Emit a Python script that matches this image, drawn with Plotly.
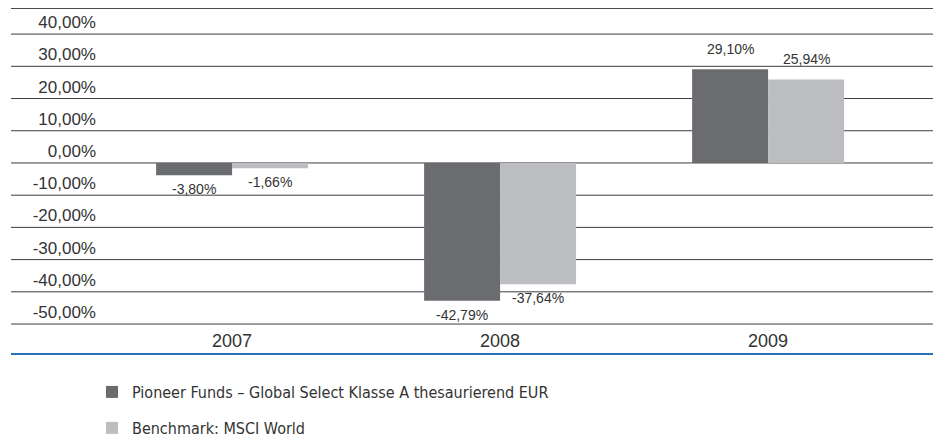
import plotly.graph_objects as go

years = ["2007", "2008", "2009"]
fund_values = [-3.80, -42.79, 29.10]
bench_values = [-1.66, -37.64, 25.94]
fund_name = "Pioneer Funds – Global Select Klasse A thesaurierend EUR"
bench_name = "Benchmark: MSCI World"
tick_values = [40, 30, 20, 10, 0, -10, -20, -30, -40, -50]


def fmt(v):
    return f"{v:.2f}".replace(".", ",") + "%"


tick_text = [fmt(v) for v in tick_values]

# page body has an 8px margin: figure pixels = screen pixels - 8
W, H = 933, 429
ML, MR, MT, MB = 89, 7, 0, 83
plot_w = W - ML - MR
plot_h = H - MT - MB
grid_x0 = (3 - ML) / plot_w
x_range = [-0.504, 2.619]
bargap = 0.433
px_per_cat = plot_w / (x_range[1] - x_range[0])
bar_offset_px = px_per_cat * (1 - bargap) / 4

fig = go.Figure()
fig.add_trace(go.Bar(
    x=years, y=fund_values, name=fund_name,
    marker=dict(color="#6b6c70", line=dict(width=0)),
    legend="legend",
))
fig.add_trace(go.Bar(
    x=years, y=bench_values, name=bench_name,
    marker=dict(color="#bcbdc1", line=dict(width=0)),
    legend="legend2",
))

annotations = []
for values, sign in ((fund_values, -1), (bench_values, 1)):
    for i, v in enumerate(values):
        annotations.append(dict(
            x=i, y=v, xref="x", yref="y", text=fmt(v), showarrow=False,
            xshift=sign * bar_offset_px, yshift=(20 if v >= 0 else -14),
            yanchor="middle", xanchor="center",
            font=dict(size=14, color="#333333", family="Liberation Sans"),
        ))

shapes = []
for v in tick_values:
    shapes.append(dict(type="line", xref="paper", yref="y", x0=grid_x0, x1=1,
                       y0=v, y1=v, line=dict(color="#3c3c3c", width=1), layer="below"))
shapes.append(dict(type="line", xref="paper", yref="paper", x0=grid_x0, x1=1,
                   y0=1, y1=1, line=dict(color="#4a4a4a", width=2)))
shapes.append(dict(type="line", xref="paper", yref="paper", x0=grid_x0, x1=1,
                   y0=0, y1=0, line=dict(color="#2a73ba", width=2)))

legend_font = dict(family="Liberation Sans Narrow, DejaVu Sans Condensed", size=16, color="#333333")
fig.update_layout(
    width=W, height=H,
    margin=dict(l=ML, r=MR, t=MT, b=MB, autoexpand=False),
    paper_bgcolor="white", plot_bgcolor="white",
    barmode="group", bargap=bargap, bargroupgap=0,
    shapes=shapes, annotations=annotations,
    showlegend=True,
    legend=dict(x=(84 - ML) / plot_w, y=(plot_h - 384) / plot_h, xanchor="left", yanchor="middle",
                font=legend_font, bgcolor="rgba(0,0,0,0)"),
    legend2=dict(x=(84 - ML) / plot_w, y=(plot_h - 420) / plot_h, xanchor="left", yanchor="middle",
                 font=legend_font, bgcolor="rgba(0,0,0,0)"),
    xaxis=dict(type="category", range=x_range, showgrid=False, zeroline=False,
               showline=False, ticks="", ticklabelposition="inside", automargin=False,
               tickfont=dict(family="Liberation Sans", size=18, color="#333333")),
    yaxis=dict(range=[-59.3, 48.1], tickvals=tick_values, ticktext=tick_text,
               showgrid=False, zeroline=False, showline=False, ticks="",
               ticklabelposition="outside top", automargin=False,
               tickfont=dict(family="Liberation Sans", size=17, color="#333333")),
)

fig.write_html("out.html")
